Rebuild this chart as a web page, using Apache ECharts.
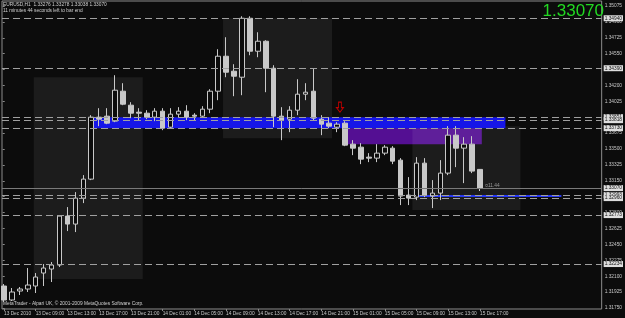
<!DOCTYPE html>
<html>
<head>
<meta charset="utf-8">
<script src="https://cdn.jsdelivr.net/npm/echarts@6/dist/echarts.min.js"></script>
<style>
html, body { margin: 0; padding: 0; background: #0c0c0c; }
#chart { width: 625px; height: 318px; }
</style>
</head>
<body>
<div id="chart"></div>
<script>
// EURUSD H1, one label every 4 bars
var timeLabels = ['13 Dec 2010', '13 Dec 09:00', '13 Dec 13:00', '13 Dec 17:00', '13 Dec 21:00',
    '14 Dec 01:00', '14 Dec 05:00', '14 Dec 09:00', '14 Dec 13:00', '14 Dec 17:00', '14 Dec 21:00',
    '15 Dec 01:00', '15 Dec 05:00', '15 Dec 09:00', '15 Dec 13:00', '15 Dec 17:00'];

// [open, close, low, high]
var candles = [
    [1.31992, 1.31838, 1.31816, 1.32014],
    [1.31838, 1.31926, 1.31827, 1.31970],
    [1.31937, 1.31959, 1.31893, 1.31981],
    [1.31959, 1.32003, 1.31926, 1.32190],
    [1.31992, 1.32091, 1.31915, 1.32135],
    [1.32135, 1.32190, 1.31992, 1.32234],
    [1.32179, 1.32223, 1.32036, 1.32256],
    [1.32223, 1.32762, 1.32201, 1.32762],
    [1.32762, 1.32674, 1.32597, 1.32861],
    [1.32674, 1.32960, 1.32586, 1.33026],
    [1.32960, 1.33169, 1.32905, 1.33213],
    [1.33169, 1.33851, 1.33158, 1.33873],
    [1.33851, 1.33829, 1.33752, 1.33950],
    [1.33862, 1.33785, 1.33774, 1.33950],
    [1.33807, 1.34148, 1.33796, 1.34313],
    [1.34137, 1.33994, 1.33983, 1.34225],
    [1.33983, 1.33895, 1.33840, 1.34016],
    [1.33906, 1.33895, 1.33818, 1.33950],
    [1.33895, 1.33851, 1.33829, 1.33928],
    [1.33851, 1.33917, 1.33807, 1.33950],
    [1.33917, 1.33730, 1.33708, 1.33950],
    [1.33741, 1.33884, 1.33730, 1.33950],
    [1.33884, 1.33917, 1.33851, 1.33961],
    [1.33917, 1.33851, 1.33818, 1.33983],
    [1.33873, 1.33862, 1.33818, 1.33895],
    [1.33862, 1.33939, 1.33851, 1.33972],
    [1.33939, 1.34137, 1.33895, 1.34159],
    [1.34137, 1.34522, 1.34038, 1.34599],
    [1.34522, 1.34346, 1.34291, 1.34731],
    [1.34357, 1.34302, 1.34082, 1.34434],
    [1.34291, 1.34940, 1.34093, 1.34962],
    [1.34940, 1.34577, 1.34533, 1.34962],
    [1.34577, 1.34687, 1.34511, 1.34786],
    [1.34687, 1.34390, 1.34126, 1.34698],
    [1.34390, 1.33862, 1.33741, 1.34423],
    [1.33862, 1.33818, 1.33598, 1.33961],
    [1.33829, 1.33928, 1.33686, 1.33972],
    [1.33928, 1.34104, 1.33873, 1.34269],
    [1.34104, 1.34126, 1.34038, 1.34225],
    [1.34137, 1.33840, 1.33818, 1.34390],
    [1.33829, 1.33774, 1.33653, 1.33873],
    [1.33785, 1.33752, 1.33730, 1.33851],
    [1.33741, 1.33774, 1.33686, 1.33796],
    [1.33785, 1.33543, 1.33532, 1.33807],
    [1.33554, 1.33510, 1.33433, 1.33598],
    [1.33521, 1.33389, 1.33334, 1.33565],
    [1.33411, 1.33400, 1.33356, 1.33455],
    [1.33400, 1.33455, 1.33356, 1.33554],
    [1.33455, 1.33521, 1.33433, 1.33543],
    [1.33510, 1.33367, 1.33334, 1.33532],
    [1.33378, 1.32982, 1.32883, 1.33400],
    [1.32993, 1.32960, 1.32883, 1.33191],
    [1.32971, 1.33345, 1.32938, 1.33411],
    [1.33345, 1.32993, 1.32971, 1.33400],
    [1.32982, 1.33015, 1.32850, 1.33158],
    [1.33015, 1.33235, 1.32938, 1.33378],
    [1.33235, 1.33653, 1.33213, 1.33752],
    [1.33653, 1.33510, 1.33301, 1.33752],
    [1.33510, 1.33554, 1.33125, 1.33631],
    [1.33554, 1.33257, 1.33235, 1.33642],
    [1.33276, 1.33070, 1.33038, 1.33278]
];

var priceTicks = [1.31750, 1.31925, 1.32100, 1.32275, 1.32450, 1.32625, 1.32800, 1.32975, 1.33150, 1.33325,
    1.33500, 1.33675, 1.33850, 1.34025, 1.34200, 1.34375, 1.34550, 1.34725, 1.34900, 1.35075];

var levelLines = [1.34940, 1.34390, 1.33851, 1.33818, 1.33730, 1.32993, 1.32960, 1.32773, 1.32234];
var bidPrice = 1.33070;
var headerText = 'EURUSD,H1  1.33276 1.33278 1.33038 1.33070';
var timerText = '11 minutes 44 seconds left to bar end';
var footerText = 'MetaTrader - Alpari UK, \u00a9 2001-2009 MetaQuotes Software Corp.';

// zones: [from bar, to bar, top price, bottom price]
var sessionBoxes = [
    [3.94, 17.77, 1.34291, 1.32069],
    [27.96, 41.8, 1.34940, 1.33620],
    [51.99, 65.7, 1.33752, 1.32828]
];
var purpleZone = [43.2, 60.8, 1.33796, 1.33554];
var blueZone = [11.23, 63.8, 1.33851, 1.33730];
var blueLine = [52.2, 70.9, 1.32993, 1.32971];
var arrowMark = [42.8, 1.33961];
var distText = ['\u00a411.44', 60.6, 1.33070];

var myChart = echarts.init(document.getElementById('chart'));

var nCats = 77;
var categories = [];
for (var i = 0; i < nCats; i++) {
    categories.push(i % 4 === 0 && i / 4 < timeLabels.length ? timeLabels[i / 4] : '');
}

var pMin = 1.31739, pMax = 1.35130;
var font = 'Liberation Sans';

function zone(z, color) {
    return [{ xAxis: z[0], yAxis: z[2], itemStyle: { color: color } }, { xAxis: z[1], yAxis: z[3] }];
}

var areaData = [zone(purpleZone, '#540f93')];
sessionBoxes.forEach(function (b) { areaData.push(zone(b, 'rgba(255,255,255,0.065)')); });
areaData.push(zone(blueZone, '#1616e8'));
areaData.push(zone(blueLine, '#2838f2'));

var lineData = levelLines.map(function (v) {
    return { yAxis: v };
});
lineData.push({ yAxis: bidPrice, lineStyle: { type: 'solid', color: '#7a7a7a' } });

var option = {
    backgroundColor: '#0c0c0c',
    animation: false,
    textStyle: { fontFamily: font },
    grid: [
        { left: -1.275, top: 1, width: 612.15, height: 308, show: false },
        { left: 2, top: 1, width: 605, height: 308, show: true, borderColor: '#8c8c8c', borderWidth: 1, backgroundColor: 'transparent' }
    ],
    xAxis: [
        {
            type: 'category', gridIndex: 0, data: categories, boundaryGap: true,
            axisLine: { show: false },
            axisTick: { show: true, alignWithLabel: true, length: 2, lineStyle: { color: '#8c8c8c' },
                interval: function (idx) { return idx % 4 === 0 && idx / 4 < timeLabels.length; } },
            axisLabel: { interval: 0, align: 'left', fontSize: 4.8, color: '#c8c8c8', margin: 2, fontFamily: font }
        },
        { type: 'value', gridIndex: 1, min: -0.088, max: 76.01, show: false }
    ],
    yAxis: [
        { type: 'value', gridIndex: 0, min: pMin, max: pMax, show: false },
        {
            type: 'value', gridIndex: 1, min: pMin, max: pMax, position: 'right',
            axisLine: { show: false },
            splitLine: { show: false },
            axisTick: { show: true, length: 2, customValues: priceTicks, lineStyle: { color: '#8c8c8c' } },
            axisLabel: {
                customValues: priceTicks, fontSize: 4.8, color: '#c8c8c8', margin: 3, fontFamily: font,
                formatter: function (v) { return v.toFixed(5); }
            }
        }
    ],
    series: [
        {
            type: 'line', xAxisIndex: 1, yAxisIndex: 1, data: [], z: 1, silent: true,
            markArea: { silent: true, data: areaData }
        },
        {
            type: 'candlestick', xAxisIndex: 0, yAxisIndex: 0, data: candles, barWidth: 5, z: 2,
            itemStyle: {
                color: '#0c0c0c', color0: '#c8c8c8',
                borderColor: '#c8c8c8', borderColor0: '#c8c8c8', borderWidth: 1
            }
        },
        {
            type: 'line', xAxisIndex: 1, yAxisIndex: 1, data: [], z: 3, silent: true,
            markLine: {
                silent: true, symbol: 'none', precision: 5,
                lineStyle: { type: [7, 4], color: '#a0a0a0', width: 1 },
                label: {
                    show: true, position: 'end', distance: 2,
                    formatter: function (p) { return Number(p.value).toFixed(5); },
                    backgroundColor: '#dedede', color: '#101010', fontSize: 4.8, fontFamily: font, padding: [1, 1, 0, 1]
                },
                data: lineData
            },
            markPoint: {
                silent: true,
                data: [
                    {
                        coord: arrowMark, symbol: 'path://M3,0 L7,0 L7,6 L10,6 L5,11 L0,6 L3,6 Z',
                        symbolSize: [7, 10], itemStyle: { color: 'transparent', borderColor: '#c00000', borderWidth: 1 },
                        label: { show: false }
                    },
                    {
                        coord: [distText[1], distText[2]], symbolSize: 0,
                        label: { show: true, position: 'right', formatter: distText[0], fontSize: 4.8, color: '#9a9a9a', fontFamily: font, offset: [0, -2] }
                    }
                ]
            }
        }
    ],
    graphic: [
        { type: 'text', left: 3, top: 2, style: { text: headerText, fontSize: 4.8, fill: '#d0d0d0', fontFamily: font } },
        { type: 'text', left: 3, top: 8, style: { text: timerText, fontSize: 4.8, fill: '#d0d0d0', fontFamily: font } },
        { type: 'text', left: 3, top: 301, style: { text: footerText, fontSize: 4.8, fill: '#d0d0d0', fontFamily: font } },
        { type: 'text', right: 21, top: 3, style: { text: bidPrice.toFixed(5), fontSize: 17, fill: '#22d822', fontFamily: font } }
    ]
};

myChart.setOption(option);
</script>
</body>
</html>
